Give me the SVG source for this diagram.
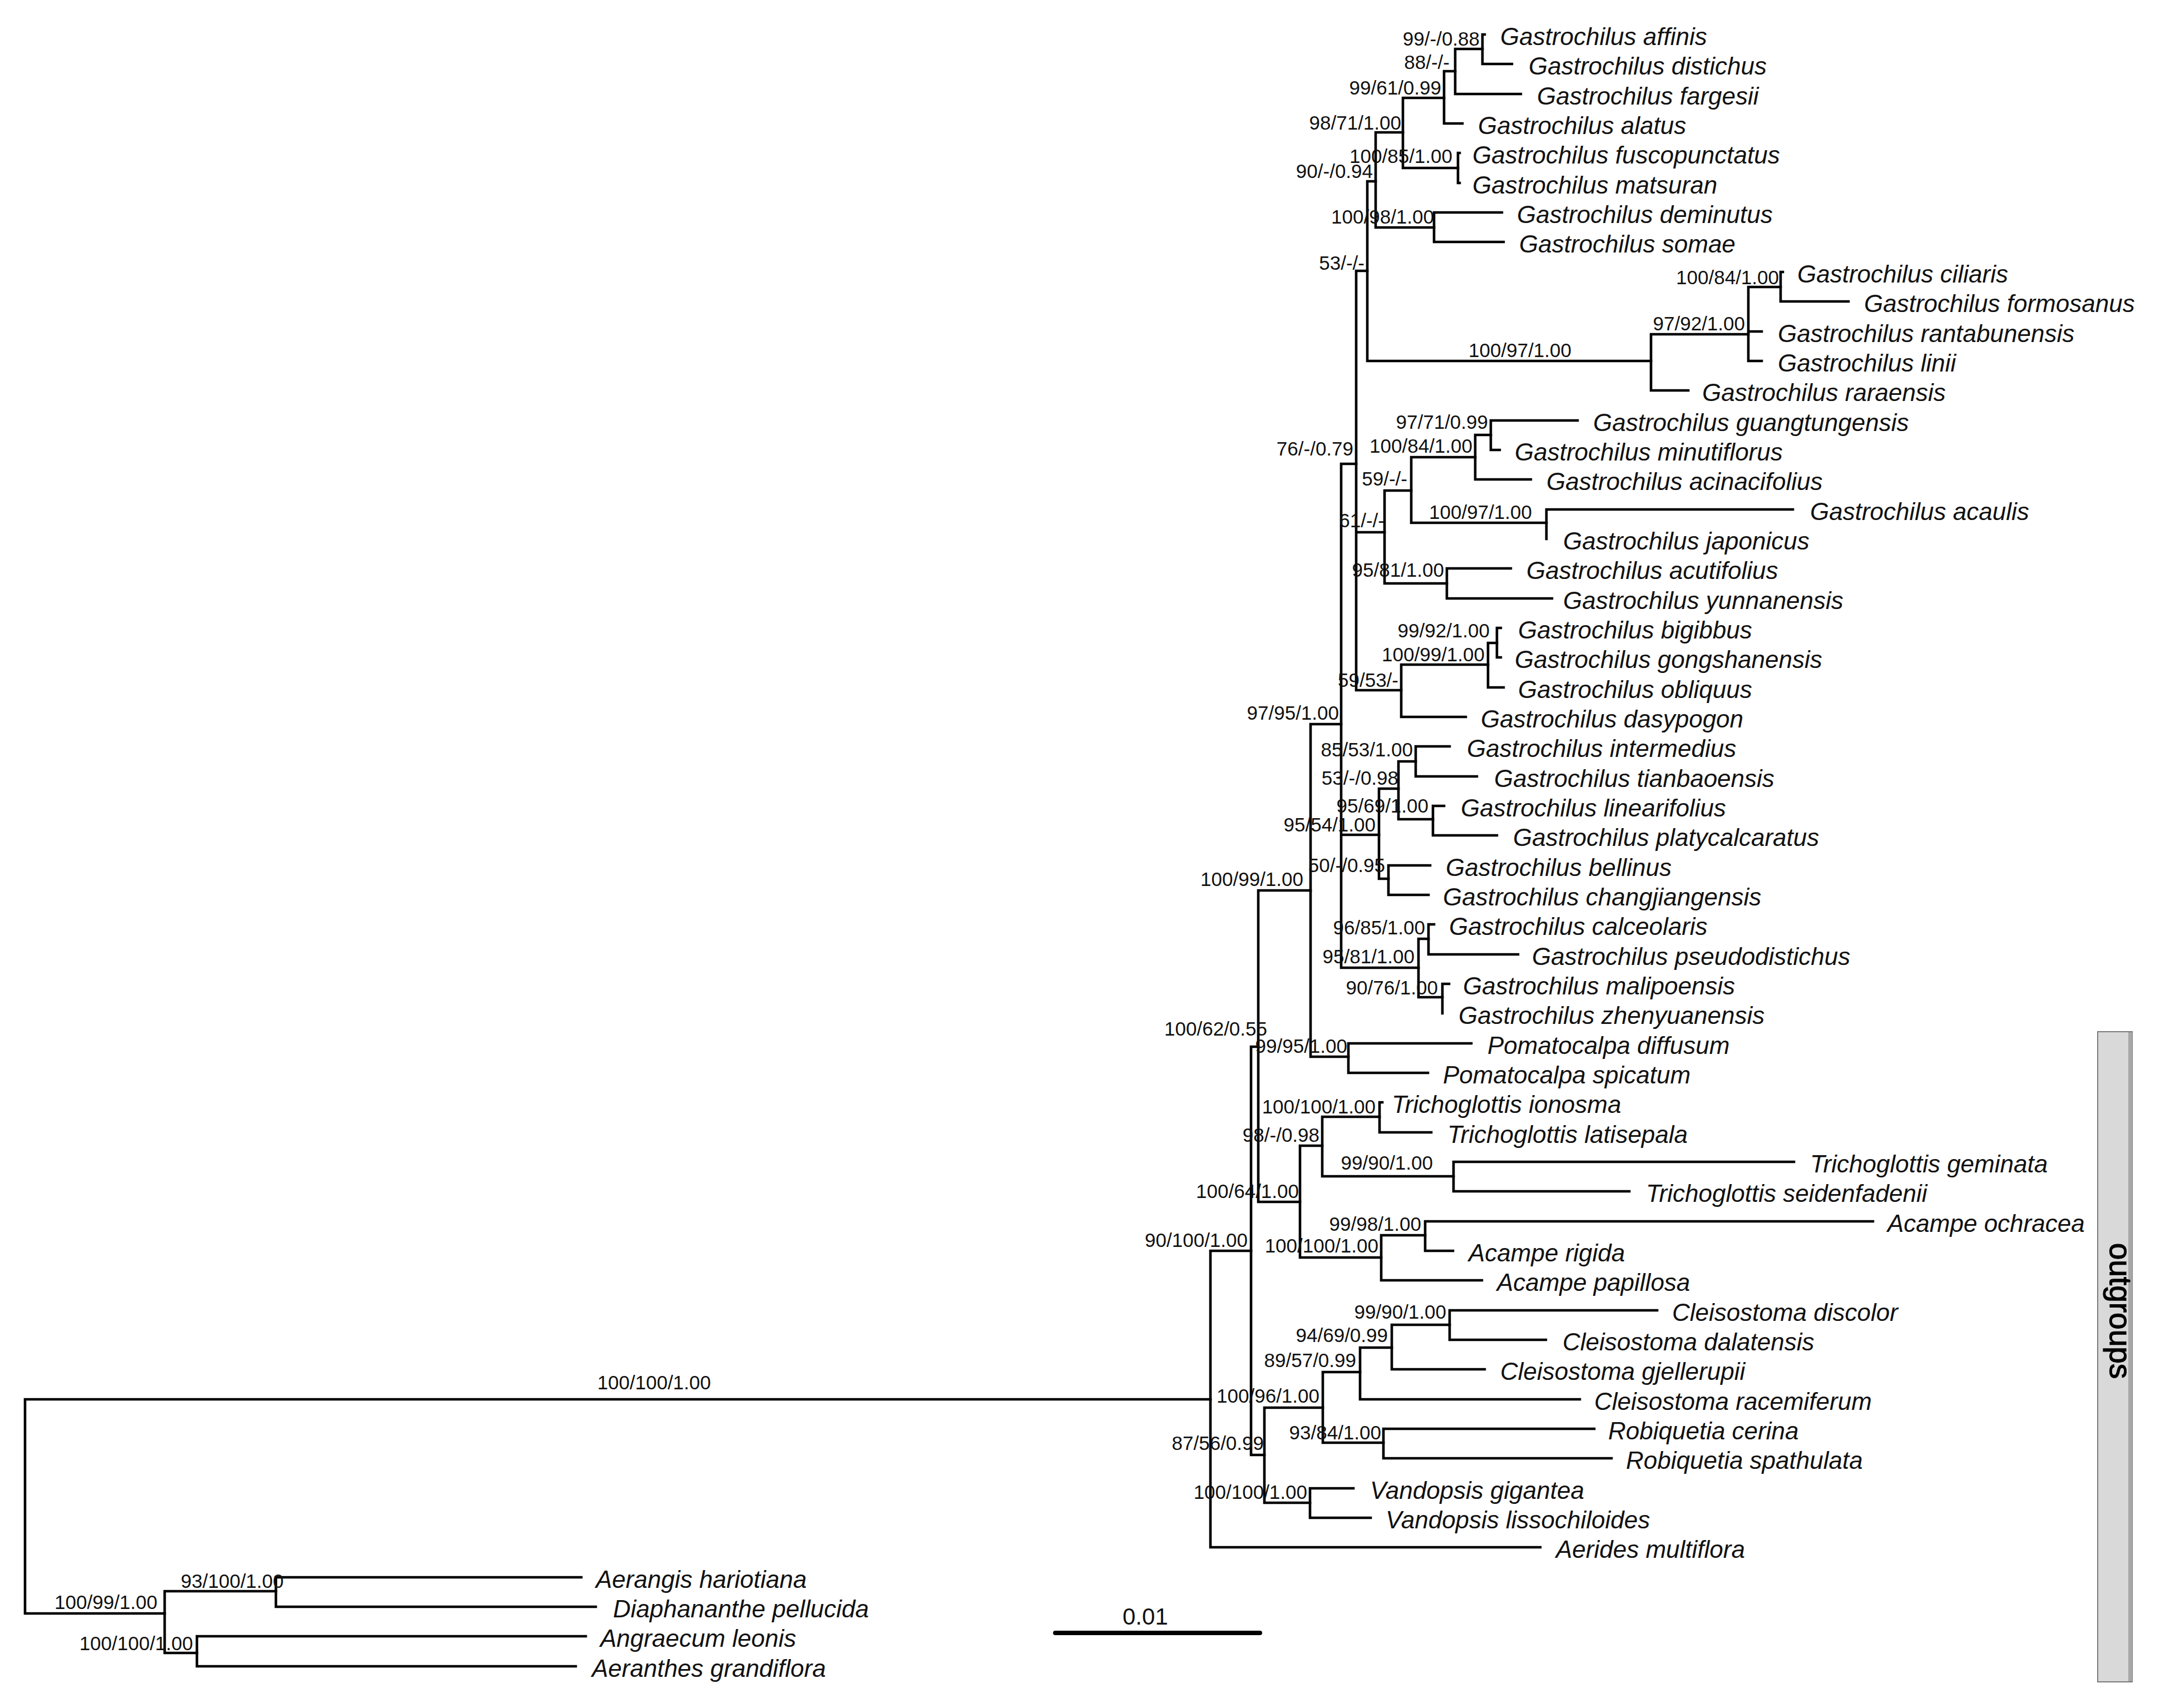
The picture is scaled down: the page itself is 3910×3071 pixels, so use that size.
<svg xmlns="http://www.w3.org/2000/svg" width="3910" height="3071" viewBox="0 0 3910 3071">
<style>
.br{fill:none;stroke:#000;stroke-width:4.6;stroke-linecap:square}
.tx{font-family:"Liberation Sans",Arial,sans-serif;font-size:44px;font-style:italic;fill:#111}
.sp{font-family:"Liberation Sans",Arial,sans-serif;font-size:35px;fill:#111;text-anchor:end}
</style>
<rect x="0" y="0" width="3910" height="3071" fill="#fff"/>
<g id="connectors" class="br">
<path d="M45,2516 V2901 M45,2516 H2176 M45,2901 H296"/>
<path d="M296,2861 V2972 M296,2861 H496 M296,2972 H354"/>
<path d="M496,2836 V2889 M496,2836 H1045 M496,2889 H1071"/>
<path d="M354,2942 V2996 M354,2942 H1053 M354,2996 H1035"/>
<path d="M2176,2249 V2782 M2176,2249 H2249 M2176,2782 H2769"/>
<path d="M2249,1882 V2616 M2249,1882 H2262 M2249,2616 H2273"/>
<path d="M2262,1601 V2161 M2262,1601 H2356 M2262,2161 H2337"/>
<path d="M2356,1302 V1900 M2356,1302 H2411 M2356,1900 H2424"/>
<path d="M2424,1876 V1929 M2424,1876 H2645 M2424,1929 H2567"/>
<path d="M2411,834 V1740 M2411,834 H2438 M2411,1501 H2479 M2411,1740 H2550"/>
<path d="M2438,487 V1241 M2438,487 H2458 M2438,957 H2489 M2438,1241 H2519"/>
<path d="M2458,326 V649 M2458,326 H2473 M2458,649 H2968"/>
<path d="M2473,238 V409 M2473,238 H2522 M2473,409 H2578"/>
<path d="M2522,176 V302 M2522,176 H2596 M2522,302 H2621"/>
<path d="M2596,128 V222 M2596,128 H2616 M2596,222 H2629"/>
<path d="M2616,88 V169 M2616,88 H2665 M2616,169 H2734"/>
<path d="M2665,62 V115 M2665,62 H2669 M2665,115 H2718"/>
<path d="M2621,275 V329 M2621,275 H2624 M2621,329 H2624"/>
<path d="M2578,382 V435 M2578,382 H2700 M2578,435 H2703"/>
<path d="M2968,601 V702 M2968,601 H3143 M2968,702 H3035"/>
<path d="M3143,516 V649 M3143,516 H3201 M3143,596 H3167 M3143,649 H3167"/>
<path d="M3201,489 V542 M3201,489 H3205 M3201,542 H3323"/>
<path d="M2489,882 V1049 M2489,882 H2537 M2489,1049 H2601"/>
<path d="M2537,822 V940 M2537,822 H2652 M2537,940 H2780"/>
<path d="M2652,782 V862 M2652,782 H2680 M2652,862 H2752"/>
<path d="M2680,756 V809 M2680,756 H2836 M2680,809 H2696"/>
<path d="M2780,916 V969 M2780,916 H3223"/>
<path d="M2601,1022 V1076 M2601,1022 H2716 M2601,1076 H2790"/>
<path d="M2519,1195 V1289 M2519,1195 H2675 M2519,1289 H2635"/>
<path d="M2675,1156 V1236 M2675,1156 H2691 M2675,1236 H2703"/>
<path d="M2691,1129 V1182 M2691,1129 H2698 M2691,1182 H2698"/>
<path d="M2479,1418 V1580 M2479,1418 H2514 M2479,1580 H2496"/>
<path d="M2514,1369 V1473 M2514,1369 H2545 M2514,1473 H2576"/>
<path d="M2545,1342 V1396 M2545,1342 H2606 M2545,1396 H2655"/>
<path d="M2576,1449 V1502 M2576,1449 H2596 M2576,1502 H2691"/>
<path d="M2496,1556 V1609 M2496,1556 H2571 M2496,1609 H2568"/>
<path d="M2550,1688 V1793 M2550,1688 H2568 M2550,1793 H2593"/>
<path d="M2568,1662 V1716 M2568,1662 H2578 M2568,1716 H2729"/>
<path d="M2593,1769 V1822 M2593,1769 H2605"/>
<path d="M2337,2060 V2261 M2337,2060 H2377 M2337,2261 H2483"/>
<path d="M2377,2008 V2115 M2377,2008 H2480 M2377,2115 H2613"/>
<path d="M2480,1982 V2036 M2480,1982 H2485 M2480,2036 H2573"/>
<path d="M2613,2089 V2142 M2613,2089 H3225 M2613,2142 H2929"/>
<path d="M2483,2221 V2302 M2483,2221 H2562 M2483,2302 H2664"/>
<path d="M2562,2196 V2249 M2562,2196 H3367 M2562,2249 H2612"/>
<path d="M2273,2531 V2702 M2273,2531 H2378 M2273,2702 H2355"/>
<path d="M2378,2467 V2594 M2378,2467 H2445 M2378,2594 H2487"/>
<path d="M2445,2423 V2516 M2445,2423 H2502 M2445,2516 H2840"/>
<path d="M2502,2382 V2462 M2502,2382 H2606 M2502,2462 H2669"/>
<path d="M2606,2356 V2409 M2606,2356 H2979 M2606,2409 H2779"/>
<path d="M2487,2569 V2622 M2487,2569 H2866 M2487,2622 H2897"/>
<path d="M2355,2676 V2729 M2355,2676 H2433 M2355,2729 H2464"/>
</g>
<g id="taxa" class="tx">
<g id="t00"><text x="2697" y="81">Gastrochilus affinis</text></g>
<g id="t01"><text x="2748" y="134">Gastrochilus distichus</text></g>
<g id="t02"><text x="2763" y="188">Gastrochilus fargesii</text></g>
<g id="t03"><text x="2657" y="241">Gastrochilus alatus</text></g>
<g id="t04"><text x="2647" y="294">Gastrochilus fuscopunctatus</text></g>
<g id="t05"><text x="2647" y="348">Gastrochilus matsuran</text></g>
<g id="t06"><text x="2727" y="401">Gastrochilus deminutus</text></g>
<g id="t07"><text x="2731" y="454">Gastrochilus somae</text></g>
<g id="t08"><text x="3231" y="508">Gastrochilus ciliaris</text></g>
<g id="t09"><text x="3351" y="561">Gastrochilus formosanus</text></g>
<g id="t10"><text x="3196" y="615">Gastrochilus rantabunensis</text></g>
<g id="t11"><text x="3196" y="668">Gastrochilus linii</text></g>
<g id="t12"><text x="3060" y="721">Gastrochilus raraensis</text></g>
<g id="t13"><text x="2864" y="775">Gastrochilus guangtungensis</text></g>
<g id="t14"><text x="2723" y="828">Gastrochilus minutiflorus</text></g>
<g id="t15"><text x="2780" y="881">Gastrochilus acinacifolius</text></g>
<g id="t16"><text x="3254" y="935">Gastrochilus acaulis</text></g>
<g id="t17"><text x="2810" y="988">Gastrochilus japonicus</text></g>
<g id="t18"><text x="2744" y="1041">Gastrochilus acutifolius</text></g>
<g id="t19"><text x="2810" y="1095">Gastrochilus yunnanensis</text></g>
<g id="t20"><text x="2729" y="1148">Gastrochilus bigibbus</text></g>
<g id="t21"><text x="2723" y="1201">Gastrochilus gongshanensis</text></g>
<g id="t22"><text x="2729" y="1255">Gastrochilus obliquus</text></g>
<g id="t23"><text x="2662" y="1308">Gastrochilus dasypogon</text></g>
<g id="t24"><text x="2637" y="1361">Gastrochilus intermedius</text></g>
<g id="t25"><text x="2686" y="1415">Gastrochilus tianbaoensis</text></g>
<g id="t26"><text x="2626" y="1468">Gastrochilus linearifolius</text></g>
<g id="t27"><text x="2720" y="1521">Gastrochilus platycalcaratus</text></g>
<g id="t28"><text x="2599" y="1575">Gastrochilus bellinus</text></g>
<g id="t29"><text x="2594" y="1628">Gastrochilus changjiangensis</text></g>
<g id="t30"><text x="2605" y="1681">Gastrochilus calceolaris</text></g>
<g id="t31"><text x="2754" y="1735">Gastrochilus pseudodistichus</text></g>
<g id="t32"><text x="2630" y="1788">Gastrochilus malipoensis</text></g>
<g id="t33"><text x="2622" y="1841">Gastrochilus zhenyuanensis</text></g>
<g id="t34"><text x="2674" y="1895">Pomatocalpa diffusum</text></g>
<g id="t35"><text x="2594" y="1948">Pomatocalpa spicatum</text></g>
<g id="t36"><text x="2502" y="2001">Trichoglottis ionosma</text></g>
<g id="t37"><text x="2602" y="2055">Trichoglottis latisepala</text></g>
<g id="t38"><text x="3254" y="2108">Trichoglottis geminata</text></g>
<g id="t39"><text x="2959" y="2161">Trichoglottis seidenfadenii</text></g>
<g id="t40"><text x="3393" y="2215">Acampe ochracea</text></g>
<g id="t41"><text x="2640" y="2268">Acampe rigida</text></g>
<g id="t42"><text x="2691" y="2321">Acampe papillosa</text></g>
<g id="t43"><text x="3006" y="2375">Cleisostoma discolor</text></g>
<g id="t44"><text x="2809" y="2428">Cleisostoma dalatensis</text></g>
<g id="t45"><text x="2697" y="2481">Cleisostoma gjellerupii</text></g>
<g id="t46"><text x="2866" y="2535">Cleisostoma racemiferum</text></g>
<g id="t47"><text x="2891" y="2588">Robiquetia cerina</text></g>
<g id="t48"><text x="2923" y="2641">Robiquetia spathulata</text></g>
<g id="t49"><text x="2463" y="2695">Vandopsis gigantea</text></g>
<g id="t50"><text x="2491" y="2748">Vandopsis lissochiloides</text></g>
<g id="t51"><text x="2797" y="2801">Aerides multiflora</text></g>
<g id="t52"><text x="1071" y="2855">Aerangis hariotiana</text></g>
<g id="t53"><text x="1102" y="2908">Diaphananthe pellucida</text></g>
<g id="t54"><text x="1079" y="2961">Angraecum leonis</text></g>
<g id="t55"><text x="1064" y="3015">Aeranthes grandiflora</text></g>
</g>
<g id="supports" class="sp">
<g id="s01"><text x="2660" y="82">99/-/0.88</text></g>
<g id="s02"><text x="2606" y="124">88/-/-</text></g>
<g id="s03"><text x="2591" y="170">99/61/0.99</text></g>
<g id="s04"><text x="2519" y="233">98/71/1.00</text></g>
<g id="s05"><text x="2611" y="293">100/85/1.00</text></g>
<g id="s06"><text x="2468" y="320">90/-/0.94</text></g>
<g id="s07"><text x="2578" y="402">100/98/1.00</text></g>
<g id="s08"><text x="2453" y="485">53/-/-</text></g>
<g id="s09"><text x="3198" y="511">100/84/1.00</text></g>
<g id="s10"><text x="3137" y="594">97/92/1.00</text></g>
<g id="s11"><text x="2825" y="642">100/97/1.00</text></g>
<g id="s12"><text x="2675" y="771">97/71/0.99</text></g>
<g id="s13"><text x="2647" y="814">100/84/1.00</text></g>
<g id="s14"><text x="2433" y="819">76/-/0.79</text></g>
<g id="s15"><text x="2530" y="873">59/-/-</text></g>
<g id="s16"><text x="2754" y="933">100/97/1.00</text></g>
<g id="s17"><text x="2489" y="948">61/-/-</text></g>
<g id="s18"><text x="2596" y="1037">95/81/1.00</text></g>
<g id="s19"><text x="2678" y="1146">99/92/1.00</text></g>
<g id="s20"><text x="2669" y="1189">100/99/1.00</text></g>
<g id="s21"><text x="2514" y="1235">59/53/-</text></g>
<g id="s22"><text x="2407" y="1294">97/95/1.00</text></g>
<g id="s23"><text x="2540" y="1360">85/53/1.00</text></g>
<g id="s24"><text x="2514" y="1411">53/-/0.98</text></g>
<g id="s25"><text x="2568" y="1461">95/69/1.00</text></g>
<g id="s26"><text x="2473" y="1495">95/54/1.00</text></g>
<g id="s27"><text x="2490" y="1568">50/-/0.95</text></g>
<g id="s28"><text x="2343" y="1593">100/99/1.00</text></g>
<g id="s29"><text x="2562" y="1680">96/85/1.00</text></g>
<g id="s30"><text x="2543" y="1732">95/81/1.00</text></g>
<g id="s31"><text x="2585" y="1788">90/76/1.00</text></g>
<g id="s32"><text x="2278" y="1862">100/62/0.55</text></g>
<g id="s33"><text x="2422" y="1893">99/95/1.00</text></g>
<g id="s34"><text x="2473" y="2002">100/100/1.00</text></g>
<g id="s35"><text x="2372" y="2053">98/-/0.98</text></g>
<g id="s36"><text x="2576" y="2103">99/90/1.00</text></g>
<g id="s37"><text x="2335" y="2154">100/64/1.00</text></g>
<g id="s38"><text x="2555" y="2213">99/98/1.00</text></g>
<g id="s39"><text x="2243" y="2242">90/100/1.00</text></g>
<g id="s40"><text x="2478" y="2252">100/100/1.00</text></g>
<g id="s41"><text x="2600" y="2371">99/90/1.00</text></g>
<g id="s42"><text x="2495" y="2413">94/69/0.99</text></g>
<g id="s43"><text x="2438" y="2458">89/57/0.99</text></g>
<g id="s44"><text x="2372" y="2522">100/96/1.00</text></g>
<g id="s45"><text x="2483" y="2588">93/84/1.00</text></g>
<g id="s46"><text x="2272" y="2607">87/56/0.99</text></g>
<g id="s47"><text x="2350" y="2695">100/100/1.00</text></g>
<g id="s48"><text x="1278" y="2498">100/100/1.00</text></g>
<g id="s49"><text x="283" y="2893">100/99/1.00</text></g>
<g id="s50"><text x="510" y="2855">93/100/1.00</text></g>
<g id="s51"><text x="347" y="2967">100/100/1.00</text></g>
</g>
<g id="scalebar">
<line x1="1897" y1="2936" x2="2265" y2="2936" stroke="#000" stroke-width="8" stroke-linecap="round"/>
<text x="2018" y="2921" font-family="'Liberation Sans',Arial,sans-serif" font-size="42" fill="#111">0.01</text>
</g>
<g id="outgroups-box">
<rect x="3771" y="1855" width="62" height="1169" fill="#d9d9d9" stroke="#7a7a7a" stroke-width="2"/>
<rect x="3826" y="1856" width="7" height="1167" fill="#a8a8a8"/>
<text transform="translate(3793,2357) rotate(90)" text-anchor="middle" font-family="'Liberation Sans',Arial,sans-serif" font-size="55" fill="#000" stroke="#000" stroke-width="1.2">outgroups</text>
</g>
</svg>
